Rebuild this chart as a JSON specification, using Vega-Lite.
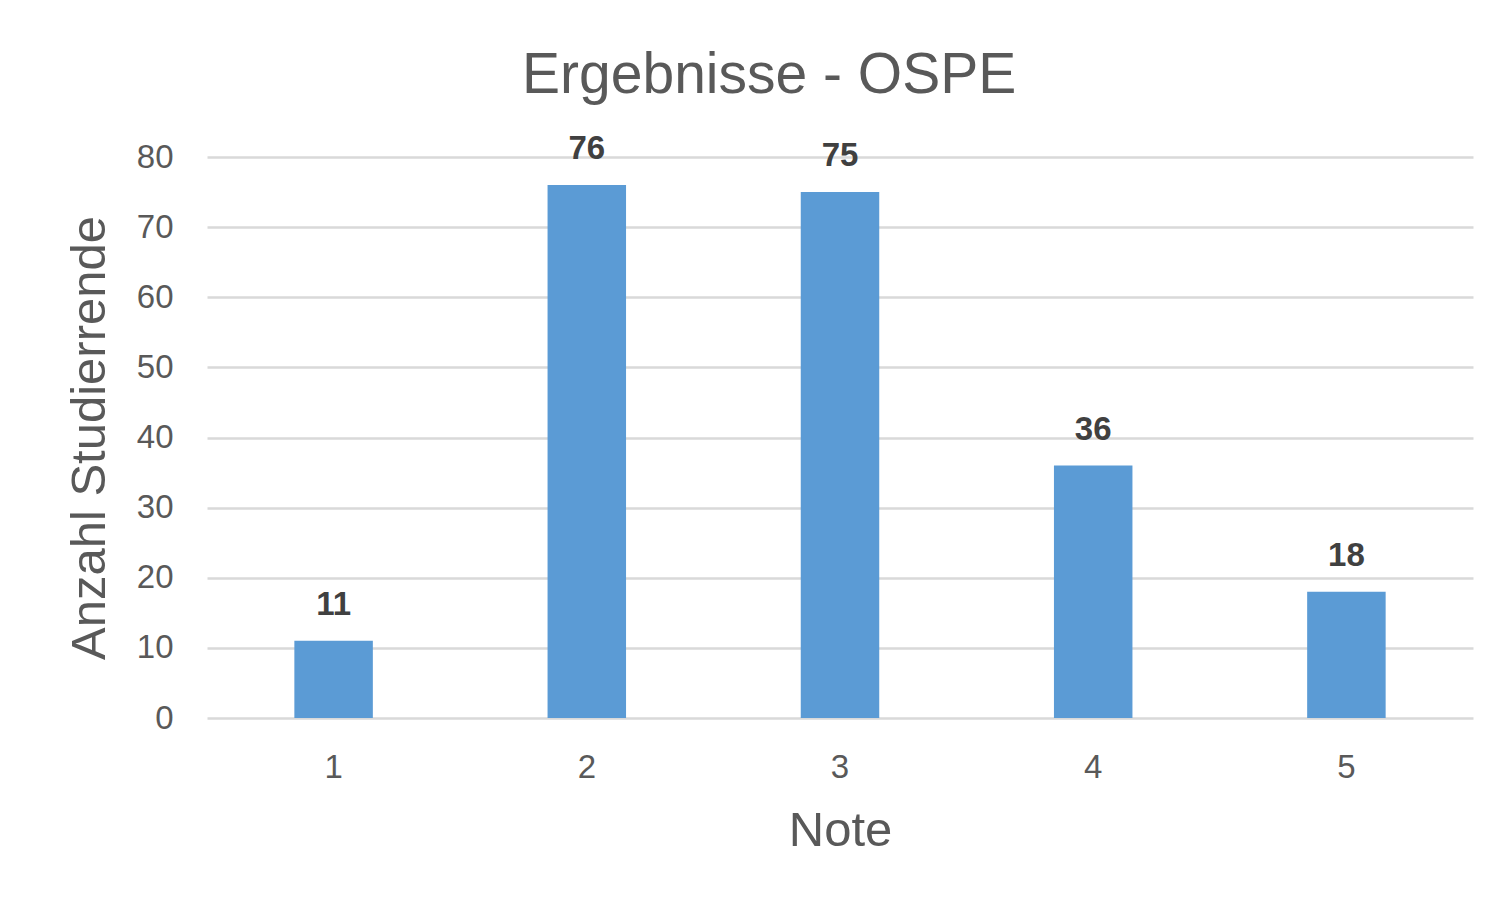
{
  "$schema": "https://vega.github.io/schema/vega-lite/v6.json",
  "autosize": "none",
  "width": 1266,
  "height": 561,
  "padding": {"left": 207, "top": 157, "right": 39, "bottom": 189},
  "background": "white",
  "data": {"values": [
    {"Note": "1", "Anzahl": 11},
    {"Note": "2", "Anzahl": 76},
    {"Note": "3", "Anzahl": 75},
    {"Note": "4", "Anzahl": 36},
    {"Note": "5", "Anzahl": 18}
  ]},
  "title": {
    "text": "Ergebnisse - OSPE",
    "font": "Liberation Sans",
    "fontSize": 57,
    "fontWeight": "normal",
    "color": "#595959",
    "anchor": "middle",
    "frame": "bounds",
    "offset": 28
  },
  "config": {
    "view": {"stroke": null},
    "axis": {
      "labelFont": "Liberation Sans",
      "titleFont": "Liberation Sans",
      "labelColor": "#595959",
      "titleColor": "#595959",
      "labelFontSize": 33,
      "titleFontSize": 49,
      "titleFontWeight": "normal",
      "domain": false,
      "ticks": false,
      "gridColor": "#d9d9d9",
      "gridWidth": 2.5,
      "gridOpacity": 1
    }
  },
  "layer": [
    {
      "mark": {"type": "bar", "color": "#5b9bd5", "width": {"band": 0.31}},
      "encoding": {
        "x": {"field": "Note", "type": "ordinal", "scale": {"paddingInner": 0, "paddingOuter": 0},
              "axis": {"labelAngle": 0, "labelPadding": 33, "titlePadding": 22, "grid": false}},
        "y": {"field": "Anzahl", "type": "quantitative", "title": "Anzahl Studierrende",
              "scale": {"domain": [0, 80]},
              "axis": {"values": [0,10,20,30,40,50,60,70,80], "labelPadding": 34, "titlePadding": 22}}
      }
    },
    {
      "mark": {"type": "text", "font": "Liberation Sans", "fontSize": 33, "fontWeight": "bold", "color": "#404040", "baseline": "alphabetic", "dy": -26},
      "encoding": {
        "x": {"field": "Note", "type": "ordinal"},
        "y": {"field": "Anzahl", "type": "quantitative"},
        "text": {"field": "Anzahl", "type": "quantitative"}
      }
    }
  ]
}
